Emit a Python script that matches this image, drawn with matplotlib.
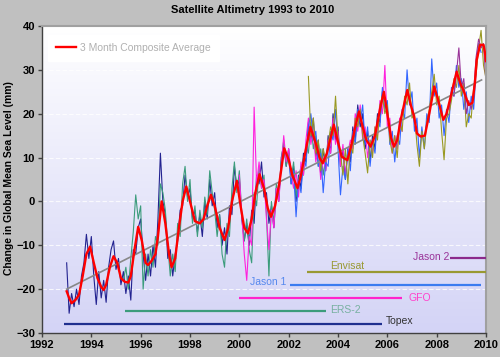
import matplotlib.pyplot as plt
import numpy as np

plt.rcParams["font.family"] = ["Liberation Sans", "DejaVu Sans"]

STEP = 0.1  # sampling interval of the satellite series (years)

# --- satellite series: start year + values every STEP years ---
topex_start = 1993.0
topex = [-14, -25.5, -21, -24, -20, -23.5, -17, -14, -7.5, -13,
         -8, -17, -23.5, -16, -22, -18, -23, -15, -11, -9,
         -15.5, -13, -19, -16, -21, -17, -22.5, -11, -12, -6,
         -4, -12, -18, -12, -17, -10, -15, -4, 11, 0,
         -3, -13, -11, -17, -12, -9, -2, -1, 6, 1,
         3, -4, -2, -7, -3, -8, 0, -4, 5, -1,
         2, -6, -3, -10, -6, -12, -1, -3, 8, 3,
         5, -4, -9, -5, -10, -2, -5, 6, 4, 9,
         1, 2, -5, -1, -6, 3, 0, 10, 13, 8,
         12, 4, 8, 0, 6, 3, 11, 9, 18, 14,
         19, 10, 14, 6, 12, 7, 15, 11, 20, 14,
         17, 8, 12, 5, 12, 9, 17, 14, 22, 17,
         20, 12, 16, 9, 15, 12, 20, 18, 25]

ers2_start = 1995.3
ers2 = [-18, -15, -20, -13, -7, 1.5, -4,
        -1, -20, -12, -17, -11, -15, -8, -10, 4, 2,
        -2, -10, -17, -12, -16, -5, -8, 4, 8, 0,
        5, -5, -1, -8, -2, -6, 1, -3, 7, 2,
        -2, -8, -3, -12, -15, -5, -8, 3, 9, 2,
        7, -3, -9, -4, -11, -14, 2, -1, 8, 3,
        6, -3, -17, 0, -5, 4, 1, 9, 14, 8,
        11, 5, 9, 1, 5, 8, 6, 13, 11, 18,
        12, 15, 8, 12, 6, 10]

gfo_start = 2000.0
gfo = [6, -3, -12, -18, -8, -10, 21.5, 4, 9, 3,
       5, -4, -11, -2, -6, 3, 0, 8, 15, 9,
       12, 6, 3, 7, 1, 9, 6, 14, 19, 13,
       16, 9, 12, 5, 10, 7, 14, 11, 19, 13,
       16, 8, 13, 6, 11, 14, 12, 20, 16, 22,
       14, 17, 10, 14, 11, 17, 15, 23, 20, 31,
       17, 19, 11, 15, 12, 19, 16]

jason1_start = 2002.0
jason1 = [10, 4, 7, -3.5, 5, 2, 10, 8, 17, 20,
          14, 16, 8, 11, 2, 9, 8, 16, 14, 21,
          12, 1.5, 8, 5, 12, 7, 16, 13, 21, 18,
          22, 13, 17, 8, 14, 11, 19, 17, 26, 21,
          23, 13, 16, 9, 15, 13, 21, 19, 30, 22,
          25, 16, 19, 10, 17, 12, 20, 18, 32.5, 24,
          27, 19, 22, 15, 21, 18, 26, 24, 31, 26,
          28, 21, 25, 18, 24, 21, 30, 36, 34]

envisat_start = 2002.8
envisat = [28.5, 15,
           19, 11, 14, 7, 12, 9, 13, 17, 15, 24,
           14, 11, 6, 12, 4, 13, 11, 19, 17, 21,
           15, 11, 6.5, 14, 10, 17, 14, 22, 24, 20,
           22, 14, 11, 15, 10, 18, 16, 24, 22, 27,
           19, 20, 13, 8, 16, 12, 18, 21, 25, 29,
           22, 24, 16, 9.5, 19, 20, 23, 28, 26, 31,
           24, 27, 17, 20, 19, 26, 29, 35, 39, 31,
           28]

jason2_start = 2008.5
jason2 = [21, 25, 24, 29, 35, 26, 28, 20, 23, 21, 25, 33, 37, 35, 36, 27]

# --- 3 month composite average (year, mm) ---
comp_years = [1993.0, 1993.1, 1993.2, 1993.35, 1993.5, 1993.65, 1993.8, 1993.95,
              1994.1, 1994.25, 1994.4, 1994.5, 1994.6, 1994.75, 1994.9, 1995.05,
              1995.2, 1995.35, 1995.5, 1995.6, 1995.75, 1995.9, 1996.05, 1996.2,
              1996.3, 1996.45, 1996.6, 1996.7, 1996.85, 1997.0, 1997.15, 1997.25,
              1997.4, 1997.55, 1997.7, 1997.85, 1998.0, 1998.2, 1998.4, 1998.55,
              1998.7, 1998.85, 1999.0, 1999.2, 1999.4, 1999.55, 1999.7, 1999.9,
              2000.05, 2000.2, 2000.35, 2000.5, 2000.65, 2000.82, 2001.0, 2001.15,
              2001.28, 2001.45, 2001.62, 2001.82, 2002.0, 2002.15, 2002.36, 2002.5,
              2002.65, 2002.88, 2003.1, 2003.25, 2003.38, 2003.55, 2003.68, 2003.83,
              2004.0, 2004.15, 2004.38, 2004.55, 2004.7, 2004.85, 2005.0, 2005.15,
              2005.32, 2005.5, 2005.7, 2005.86, 2006.0, 2006.15, 2006.27, 2006.4,
              2006.54, 2006.81, 2006.95, 2007.08, 2007.2, 2007.35, 2007.52, 2007.7,
              2007.9, 2008.06, 2008.27, 2008.4, 2008.6, 2008.81, 2008.95, 2009.08,
              2009.3, 2009.45, 2009.55, 2009.62, 2009.76, 2009.9, 2009.96, 2010.0]
comp_vals = [-20.5, -22, -23.2, -22.5, -21.3, -17, -12, -10.3,
             -14, -17.5, -19.5, -20.2, -19, -15, -12.5, -14,
             -17.5, -18.3, -18.5, -17, -11, -5.8, -9, -14,
             -14.5, -13.5, -12, -8, 0, -5, -12, -15,
             -13, -6, 0, 3.4, 0, -4.5, -5, -4,
             -1, 1.5, -1, -6, -8.8, -6, 0, 4.7,
             -1, -6, -7.3, -4, 2, 6.2, 3, -1.5,
             -3.5, -1, 4.1, 12.1, 9.5, 6, 3.0, 6,
             10.5, 17.0, 13.2, 10, 8.7, 11, 14, 17.5,
             13.5, 10.2, 9.4, 13, 17, 20.5, 17, 14,
             12.5, 15, 21, 25.0, 20, 14.5, 12.5, 14,
             18.6, 25.4, 22, 19.5, 15.5, 14.8, 15, 20,
             26.2, 23.1, 18.6, 20, 24.6, 29.6, 27, 25.4,
             22, 22.5, 27, 32.2, 35.7, 35.7, 33.8, 32]

# --- linear trend end points ---
trend_years = [1993.0, 2009.82]
trend_vals = [-20.0, 27.7]

# --- mission spans ---
mission_names = ["Topex", "ERS-2", "GFO", "Jason 1", "Envisat", "Jason 2"]
mission_start = [1992.9, 1995.35, 2000.0, 2002.05, 2002.75, 2008.55]
mission_end = [2005.8, 2003.5, 2006.6, 2009.8, 2010.0, 2010.0]
mission_level = [-28, -25, -22, -19, -16, -13]

line_colors = ["#232390", "#3c9c7c", "#ff22dd", "#3366ff", "#999922", "#993399"]
bar_colors = ["#1f2f8f", "#3c9c7c", "#ff22cc", "#3b7cf0", "#999933", "#8b2a8b"]
text_colors = ["#333333", "#77b0a0", "#ff44cc", "#5588ee", "#999933", "#993399"]
text_pos = [(2005.95, -27.3), (2003.7, -24.8), (2006.85, -22.0),
            (2000.45, -18.3), (2003.7, -14.8), (2007.05, -12.7)]

series = [(topex_start, topex), (ers2_start, ers2), (gfo_start, gfo),
          (jason1_start, jason1), (envisat_start, envisat), (jason2_start, jason2)]

fig = plt.figure(figsize=(5.0, 3.57), dpi=100, facecolor="#c0c0c0")
ax = fig.add_axes([0.084, 0.0672, 0.888, 0.86])

# plot area gradient, white at top to pale lavender at bottom
grad = np.linspace(0, 1, 256)[:, None]
top = np.array([1.0, 1.0, 1.0])
bot = np.array([0.83, 0.83, 0.965])
img = top + grad[..., None] * (bot - top)
ax.imshow(img, extent=[1992, 2010, -30, 40], origin="upper", aspect="auto", zorder=0)

for y in range(-30, 41, 10):
    ax.axhline(y, color="white", lw=0.8, ls=(0, (4, 2)), alpha=0.8, zorder=1)

for (start, vals), c in zip(series, line_colors):
    x = start + STEP * np.arange(len(vals))
    ax.plot(x, vals, color=c, lw=0.8, zorder=2)

ax.plot(trend_years, trend_vals, color="#888888", lw=1.2, zorder=3)
ax.plot(comp_years, comp_vals, color="#ff0000", lw=1.7, zorder=4,
        label="3 Month Composite Average")

for name, s, e, lev, bc, tc, (tx, ty) in zip(mission_names, mission_start, mission_end,
                                               mission_level, bar_colors, text_colors, text_pos):
    ax.plot([s, e], [lev, lev], color=bc, lw=1.6, zorder=3, solid_capstyle="butt")
    ax.text(tx, ty, name, color=tc, fontsize=7.5, ha="left", va="center", zorder=5)

ax.set_xlim(1992, 2010)
ax.set_ylim(-30, 40)
ax.set_xticks(range(1992, 2011, 2))
ax.set_yticks(range(-30, 41, 10))
ax.tick_params(direction="out", length=3, width=1, color="#404040",
               labelsize=8, pad=2)
for lab in ax.get_xticklabels() + ax.get_yticklabels():
    lab.set_fontweight("bold")

for side in ["left", "bottom"]:
    ax.spines[side].set_color("#404040")
    ax.spines[side].set_linewidth(1.0)
for side in ["top", "right"]:
    ax.spines[side].set_color("#a0a0a0")
    ax.spines[side].set_linewidth(1.5)

leg = ax.legend(loc="upper left", bbox_to_anchor=(0.013, 0.972), fontsize=7.5,
                frameon=True, fancybox=False, facecolor="white", edgecolor="white",
                framealpha=1, borderaxespad=0, handlelength=1.9, handletextpad=0.4,
                borderpad=0.8)
for t in leg.get_texts():
    t.set_color("#b0b0b0")

fig.text(0.505, 0.972, "Satellite Altimetry 1993 to 2010", ha="center", va="center",
         fontsize=8, fontweight="bold")
fig.text(0.018, 0.5, "Change in Global Mean Sea Level (mm)", rotation=90,
         ha="center", va="center", fontsize=7.5, fontweight="bold")

fig.savefig("out.png", dpi=100, facecolor=fig.get_facecolor())
